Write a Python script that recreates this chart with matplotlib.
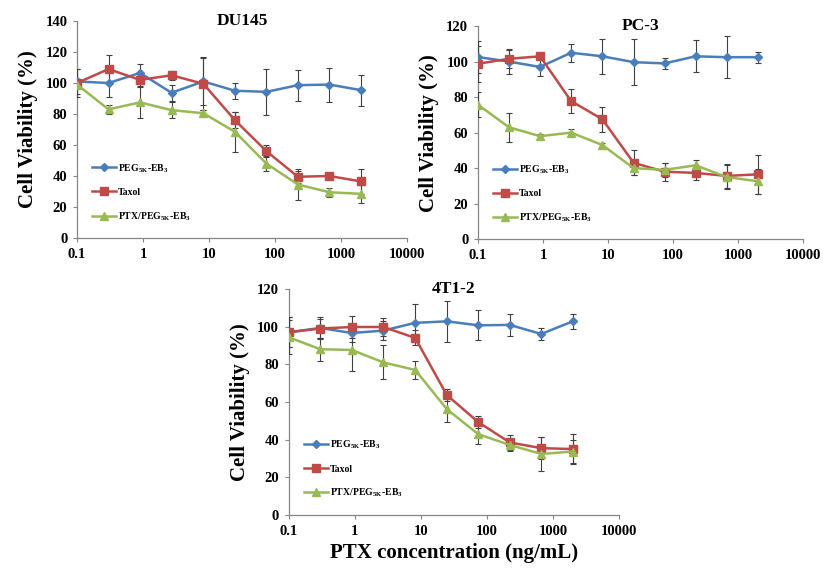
import matplotlib
matplotlib.use("Agg")
import matplotlib.pyplot as plt
from matplotlib.lines import Line2D
from matplotlib.ticker import FixedLocator, NullLocator

plt.rcParams['font.family'] = ['Liberation Serif', 'DejaVu Serif']
plt.rcParams['font.weight'] = 'bold'
plt.rcParams['mathtext.fontset'] = 'custom'
plt.rcParams['mathtext.rm'] = 'Liberation Serif:bold'
plt.rcParams['mathtext.bf'] = 'Liberation Serif:bold'

# concentrations (ng/mL), 3-fold dilution
conc = [0.1, 0.3, 0.9, 2.7, 8.2, 24.7, 74, 222, 667, 2000]

# DU145
du_peg = [101, 100, 106.5, 93.7, 101, 95, 94.3, 98.6, 99, 95.4]
du_peg_err = [8, 9, 6, 5, 15, 5, 15, 10, 11, 10]
du_tax = [100, 109, 102, 105, 99.5, 76, 56, 39.5, 40, 36.5]
du_tax_err = [9, 9, 4, 3, 17, 5, 4, 4, 2, 8]
du_ptx = [99, 83, 87.5, 82.5, 80.5, 68.5, 48, 34.5, 29.5, 28.5]
du_ptx_err = [2, 3, 10, 5, 2, 13, 5, 10, 3, 6]

# PC-3
pc_peg = [102.6, 100, 97, 105, 103, 99.7, 99, 103, 102.5, 102.5]
pc_peg_err = [9, 7, 5, 5, 10, 13, 3, 9, 12, 3]
pc_tax = [98.8, 101.6, 103, 77.8, 67.5, 43, 38, 37.3, 35.6, 36.5]
pc_tax_err = [10, 5, 2, 7, 7, 7, 5, 4, 7, 11]
pc_ptx = [75.7, 63, 58, 60, 53, 40, 39, 41.6, 35, 32.6]
pc_ptx_err = [7, 8, 1, 2, 1, 4, 4, 3, 7, 7]

# 4T1-2
t4_peg = [97, 99.3, 96.6, 97.9, 102, 102.8, 100.7, 100.9, 96.1, 102.8]
t4_peg_err = [8, 6, 5, 5, 10, 11, 8, 6, 3, 4]
t4_tax = [97, 99, 99.8, 99.8, 94, 63.7, 49.3, 38.5, 35.5, 35]
t4_tax_err = [8, 5, 6, 5, 4, 3, 3, 4, 6, 8]
t4_ptx = [94.3, 88, 87.6, 81, 77, 56.2, 42.9, 37.2, 32.4, 33.7]
t4_ptx_err = [9, 6, 11, 9, 5, 7, 5, 3, 9, 6]

labels = [r'PEG$_{\mathrm{5K}}$-EB$_{\mathrm{3}}$', 'Taxol', r'PTX/PEG$_{\mathrm{5K}}$-EB$_{\mathrm{3}}$']
colors = ['#4a7ebb', '#be4b48', '#98b954']
markers = ['D', 's', '^']
msizes = [4.5, 6, 6]
xticks = [0.1, 1, 10, 100, 1000, 10000]
xtick_labels = ['0.1', '1', '10', '100', '1000', '10000']

fig = plt.figure(figsize=(8.23, 5.68), dpi=100)


def draw_panel(rect, title, series, errs, ymax, title_xy):
    ax = fig.add_axes(rect)
    handles = []
    for y, e, c, m, ms, lab in zip(series, errs, colors, markers, msizes, labels):
        ax.errorbar(conc, y, yerr=e, color=c, marker=m, markersize=ms, lw=1.8,
                    ecolor='#404040', elinewidth=0.8, capsize=2.5, capthick=0.8,
                    zorder=3)
        handles.append(Line2D([], [], color=c, marker=m, markersize=ms, lw=1.8, label=lab))
    ax.set_xscale('log')
    ax.set_xlim(0.1, 10000)
    ax.set_ylim(0, ymax)
    ax.set_yticks(range(0, ymax + 1, 20))
    ax.xaxis.set_major_locator(FixedLocator(xticks))
    ax.xaxis.set_minor_locator(NullLocator())
    ax.set_xticklabels(xtick_labels)
    for s in ['top', 'right']:
        ax.spines[s].set_visible(False)
    for s in ['left', 'bottom']:
        ax.spines[s].set_color('#868686')
        ax.spines[s].set_linewidth(0.9)
    ax.tick_params(axis='both', labelsize=10.5, color='#868686', length=3, width=0.8, pad=4)
    for t in ax.get_xticklabels() + ax.get_yticklabels():
        t.set_fontweight('bold')
    ax.set_ylabel('Cell Viability (%)', fontsize=15, fontweight='bold', labelpad=5)
    ax.text(title_xy[0], title_xy[1], title, transform=ax.transAxes, ha='center', va='center',
            fontsize=12.5, fontweight='bold')
    ax.legend(handles=handles, loc='lower left', bbox_to_anchor=(0.02, 0.03), frameon=False,
              labelspacing=1.35, handlelength=2.4, handletextpad=0.2,
              prop={'weight': 'bold', 'size': 7})
    return ax


draw_panel([0.0936, 0.581, 0.401, 0.382], 'DU145',
           [du_peg, du_tax, du_ptx], [du_peg_err, du_tax_err, du_ptx_err], 140, (0.5, 1.0))
draw_panel([0.5808, 0.579, 0.395, 0.375], 'PC-3',
           [pc_peg, pc_tax, pc_ptx], [pc_peg_err, pc_tax_err, pc_ptx_err], 120, (0.5, 1.0))
ax3 = draw_panel([0.351, 0.0933, 0.401, 0.398], '4T1-2',
                 [t4_peg, t4_tax, t4_ptx], [t4_peg_err, t4_tax_err, t4_ptx_err], 120, (0.5, 1.0))
ax3.set_xlabel('PTX concentration (ng/mL)', fontsize=15, fontweight='bold', labelpad=4)

fig.savefig('out.png', dpi=100)
